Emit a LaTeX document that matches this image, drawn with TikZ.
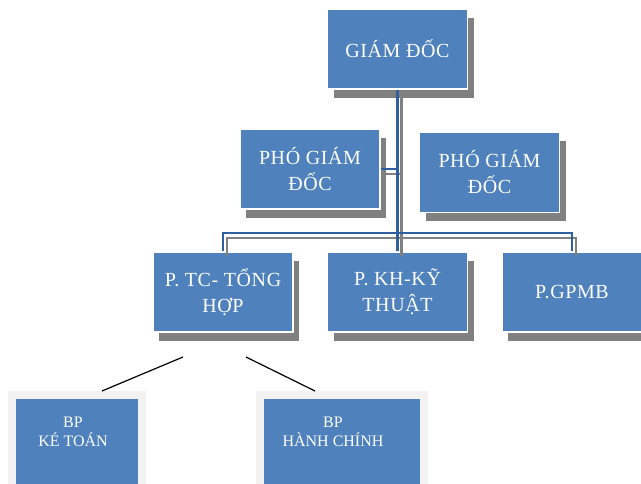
\documentclass[tikz,border=0pt]{standalone}
\usepackage{fontspec}
\setmainfont{Liberation Serif}
\newfontfamily\unitfont[LetterSpace=3]{Liberation Serif}
\usepackage{xcolor}
\usetikzlibrary{shadows,calc}
\definecolor{unitblue}{HTML}{4F81BD}
\definecolor{shadowgray}{HTML}{808080}
\definecolor{linkblue}{HTML}{2F5F9E}
\definecolor{paleback}{HTML}{F2F2F2}

\begin{document}
\begin{tikzpicture}[x=1pt,y=-1pt,
  unit/.style={fill=unitblue,draw=white,line width=1.5pt,minimum width=140pt,
    minimum height=80pt,inner sep=2pt,align=center,text=white,
    font=\unitfont\fontsize{20}{26}\selectfont,
    general shadow={fill=shadowgray,shadow xshift=6pt,shadow yshift=-9pt}},
  link/.style={draw=linkblue,line width=2.6pt},
  linkshade/.style={draw=shadowgray,line width=2.6pt,
    transform canvas={xshift=4pt,yshift=-5pt}},
  back/.style={fill=paleback,minimum height=110pt,anchor=north,inner sep=0pt},
  part/.style={fill=unitblue,minimum height=100pt,anchor=north,inner sep=0pt},
  partlabel/.style={align=center,text=white,font=\fontsize{16}{19}\selectfont}]
\useasboundingbox (0,0) rectangle (641,484);
\clip (0,0) rectangle (641,484);

% top of the chart
\node[unit] (gd) at (397.5,49) {GIÁM ĐỐC};
\node[unit] (pgd1) at (310,169) {PHÓ GIÁM\\ĐỐC};
\node[unit] (pgd2) at (489.5,172.5) {PHÓ GIÁM\\ĐỐC};

% departments
\node[unit] (ptc) at (223,292) {P. TC- TỔNG\\HỢP};
\node[unit] (pkh) at (397.5,292) {P. KH-KỸ\\THUẬT};
\node[unit] (pgp) at (572,292) {P.GPMB};

\coordinate (bar) at (397.5,233);

\draw[linkshade] (gd.south) -- (pkh.north);
\draw[linkshade] (ptc.north) -- (ptc.north |- bar) -- (pgp.north |- bar) -- (pgp.north);
\draw[linkshade] (pgd1.east) -- (pgd1.east -| gd.south);
\draw[link] (gd.south) -- (pkh.north);
\draw[link] (ptc.north) -- (ptc.north |- bar) -- (pgp.north |- bar) -- (pgp.north);
\draw[link] (pgd1.east) -- (pgd1.east -| gd.south);

% sections under P. TC
\node[back,minimum width=138pt] (ktback) at (77,391) {};
\node[part,minimum width=122pt] (kt) at (77,399) {};
\node[partlabel] (ktlabel) at (73,432) {BP\\KÉ TOÁN};

\node[back,minimum width=172pt] (hcback) at (342,391) {};
\node[part,minimum width=156pt] (hc) at (342,399) {};
\node[partlabel] (hclabel) at (333,432) {BP\\HÀNH CHÍNH};

\coordinate (ktfrom) at (183,357);
\coordinate (ktto) at (102,391);
\coordinate (hcfrom) at (246,357);
\coordinate (hcto) at (315,391);
\draw[line width=1.2pt] (ktfrom) -- (ktto);
\draw[line width=1.2pt] (hcfrom) -- (hcto);
\end{tikzpicture}
\end{document}
